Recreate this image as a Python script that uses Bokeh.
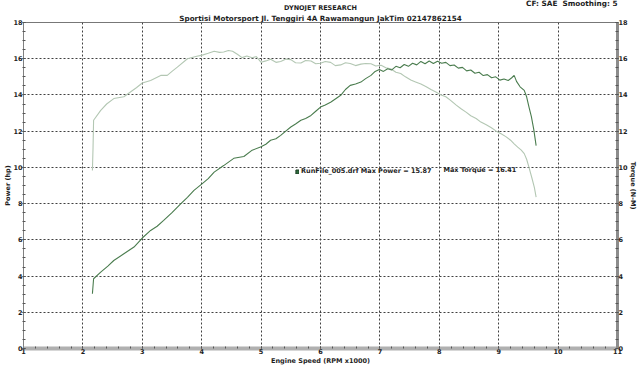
from bokeh.plotting import figure
from bokeh.models import (Range1d, LinearAxis, Label, Legend, LegendItem, FixedTicker, Title,
                          ColumnDataSource)
from bokeh.embed import file_html
from bokeh.resources import INLINE

# ---------------- data ----------------
rpm_power = [2.16, 2.18, 2.30, 2.42, 2.52, 2.69, 2.86, 3.00, 3.14, 3.25, 3.36, 3.50, 3.65, 3.76,
             3.87, 4.01, 4.11, 4.21, 4.37, 4.54, 4.71, 4.85, 4.99, 5.08, 5.16, 5.25, 5.33, 5.42,
             5.50, 5.58, 5.67, 5.75, 5.84, 5.92, 6.00, 6.08, 6.17, 6.25, 6.34, 6.42, 6.50, 6.59,
             6.68, 6.76, 6.85, 6.92, 6.99, 7.06, 7.13, 7.20, 7.27, 7.34, 7.41, 7.48, 7.55, 7.62,
             7.69, 7.76, 7.83, 7.90, 7.97, 8.04, 8.11, 8.18, 8.25, 8.32, 8.39, 8.46, 8.53, 8.60,
             8.67, 8.74, 8.81, 8.88, 8.95, 9.02, 9.09, 9.16, 9.22, 9.26, 9.30, 9.36, 9.43, 9.47,
             9.51, 9.55, 9.59, 9.63]
power_hp = [3.02, 3.85, 4.22, 4.55, 4.86, 5.23, 5.60, 6.10, 6.52, 6.75, 7.07, 7.50, 8.00, 8.35,
            8.73, 9.10, 9.38, 9.74, 10.10, 10.50, 10.60, 10.95, 11.12, 11.28, 11.50, 11.58, 11.77, 12.02,
            12.23, 12.40, 12.60, 12.70, 12.87, 13.10, 13.33, 13.45, 13.60, 13.78, 13.98, 14.30, 14.53, 14.60,
            14.71, 14.90, 15.08, 15.30, 15.40, 15.30, 15.45, 15.38, 15.58, 15.50, 15.68, 15.58, 15.75, 15.66,
            15.85, 15.72, 15.87, 15.74, 15.86, 15.75, 15.80, 15.62, 15.65, 15.48, 15.52, 15.33, 15.38, 15.20,
            15.25, 15.07, 15.12, 14.95, 15.00, 14.82, 14.88, 14.80, 14.95, 15.08, 14.75, 14.45, 14.25, 13.90,
            13.33, 12.80, 12.10, 11.20]

rpm_torque = [2.16, 2.17, 2.18, 2.30, 2.40, 2.52, 2.69, 2.80, 2.90, 3.00, 3.14, 3.31, 3.42, 3.50,
              3.59, 3.76, 3.90, 4.01, 4.11, 4.21, 4.30, 4.37, 4.45, 4.52, 4.60, 4.68, 4.76, 4.85,
              4.92, 5.00, 5.08, 5.16, 5.25, 5.33, 5.42, 5.50, 5.58, 5.67, 5.75, 5.84, 5.92, 6.00,
              6.08, 6.17, 6.25, 6.34, 6.42, 6.50, 6.59, 6.68, 6.76, 6.85, 6.93, 7.02, 7.10, 7.18,
              7.27, 7.35, 7.43, 7.52, 7.60, 7.69, 7.78, 7.86, 7.95, 8.03, 8.11, 8.19, 8.28, 8.36,
              8.45, 8.53, 8.62, 8.70, 8.79, 8.87, 8.96, 9.04, 9.12, 9.20, 9.26, 9.32, 9.38, 9.43,
              9.47, 9.51, 9.56, 9.60, 9.63]
torque_nm = [9.83, 11.00, 12.60, 13.15, 13.50, 13.80, 13.90, 14.16, 14.40, 14.66, 14.80, 15.08, 15.08, 15.30,
             15.54, 16.00, 16.12, 16.20, 16.30, 16.41, 16.35, 16.37, 16.45, 16.41, 16.25, 16.06, 16.15, 16.05,
             16.12, 15.80, 15.88, 15.97, 15.80, 15.85, 15.98, 15.95, 15.78, 15.76, 15.90, 15.87, 15.72, 15.75,
             15.85, 15.80, 15.62, 15.66, 15.78, 15.74, 15.62, 15.70, 15.74, 15.72, 15.60, 15.64, 15.50, 15.45,
             15.25, 15.18, 15.00, 14.82, 14.72, 14.60, 14.45, 14.30, 14.15, 14.00, 13.90, 13.70, 13.45, 13.25,
             13.05, 12.85, 12.70, 12.50, 12.35, 12.20, 12.00, 11.86, 11.70, 11.50, 11.30, 11.12, 10.95, 10.76,
             10.45, 10.00, 9.40, 8.90, 8.36]

x_ticks = [1, 2, 3, 4, 5, 6, 7, 8, 9, 10, 11]
y_ticks = [0, 2, 4, 6, 8, 10, 12, 14, 16, 18]

title_text = "DYNOJET RESEARCH"
subtitle_text = "Sportisi Motorsport Jl. Tenggiri 4A Rawamangun JakTim 02147862154"
cf_text = "CF: SAE\u00a0\u00a0Smoothing: 5"
power_label = "Power (hp)"
torque_label = "Torque (N-M)"
x_label = "Engine Speed (RPM x1000)"
legend_text = "RunFile_005.drf Max Power = 15.87"
torque_text = "Max Torque = 16.41"

# ---------------- styles ----------------
FONT = "DejaVu Sans"
FS = "6.5px"
TXT = "#1e1e1e"
POWER_COLOR = "#4a7c4e"
TORQUE_COLOR = "#b3c7b3"

p = figure(width=640, height=367, output_backend="svg", toolbar_location=None,
           x_range=Range1d(1, 11), y_range=Range1d(0, 18),
           min_border_left=23, min_border_right=23, min_border_top=22, min_border_bottom=19,
           background_fill_color="white", border_fill_color="white")
p.outline_line_color = "#777777"
p.outline_line_width = 1

minor_x = [1 + i * 0.2 for i in range(51)]
minor_y = [i * 0.5 for i in range(37)]


def style_axis(ax, line_color, line_width, tick_out=1, label_standoff=-2):
    ax.axis_line_color = line_color
    ax.axis_line_width = line_width
    ax.major_tick_line_color = "#555555"
    ax.minor_tick_line_color = "#555555"
    ax.major_tick_in = 2
    ax.major_tick_out = tick_out
    ax.minor_tick_in = 2
    ax.minor_tick_out = tick_out
    ax.major_label_text_font = FONT
    ax.major_label_text_font_size = FS
    ax.major_label_text_font_style = "bold"
    ax.major_label_text_color = TXT
    ax.major_label_standoff = 0
    ax.axis_label_text_font = FONT
    ax.axis_label_text_font_size = FS
    ax.axis_label_text_font_style = "bold"
    ax.axis_label_text_color = TXT
    ax.axis_label_standoff = label_standoff


xaxis = p.xaxis[0]
xaxis.ticker = FixedTicker(ticks=x_ticks, minor_ticks=minor_x)
style_axis(xaxis, "#b0b0b0", 4, tick_out=0, label_standoff=0)
xaxis.axis_label = x_label

yaxis = p.yaxis[0]
yaxis.ticker = FixedTicker(ticks=y_ticks, minor_ticks=minor_y)
style_axis(yaxis, "#808080", 1)
yaxis.axis_label = power_label

raxis = LinearAxis(ticker=FixedTicker(ticks=y_ticks, minor_ticks=minor_y))
style_axis(raxis, "#8c8c8c", 3)
raxis.axis_label = torque_label
p.add_layout(raxis, "right")

for g in (p.xgrid[0], p.ygrid[0]):
    g.grid_line_color = "#404040"
    g.grid_line_dash = "2 2"
    g.grid_line_width = 1

# ---------------- titles ----------------
def title(text, align, size=FS, standoff=0, offset=0):
    return Title(text=text, align=align, text_font=FONT, text_font_size=size,
                 text_font_style="bold", text_color=TXT, standoff=standoff, offset=offset)

p.add_layout(title(subtitle_text, "center", size="7.2px"), "above")
p.add_layout(title(title_text, "center"), "above")
p.add_layout(title(cf_text, "right", size="7.3px", standoff=-12, offset=0), "above")

# ---------------- curves ----------------
p.line(rpm_torque, torque_nm, line_color=TORQUE_COLOR, line_width=1.1)
p.line(rpm_power, power_hp, line_color=POWER_COLOR, line_width=1.1)

# legend entry for the run file (hidden proxy renderer, only its swatch is shown)
proxy_src = ColumnDataSource(data=dict(left=rpm_power[:1], right=rpm_power[:1],
                                       top=power_hp[:1], bottom=power_hp[:1]))
proxy = p.quad(left="left", right="right", top="top", bottom="bottom", source=proxy_src,
               fill_color="#2f6e3f", line_color="#1e3e25", visible=False)
legend = Legend(items=[LegendItem(label=legend_text, renderers=[proxy])],
                location=(272, 173), padding=0, margin=0, spacing=0,
                glyph_width=4, glyph_height=5, label_standoff=2, label_height=5,
                border_line_alpha=0, background_fill_alpha=0, inactive_fill_alpha=0,
                label_text_font=FONT, label_text_font_size=FS, label_text_font_style="bold",
                label_text_color=TXT)
p.add_layout(legend, "center")

p.add_layout(Label(x=8.07, y=9.83, text=torque_text, text_font=FONT, text_font_size=FS,
                   text_font_style="bold", text_color=TXT, text_align="left",
                   text_baseline="middle"))

open("out.html", "w").write(file_html(p, INLINE))
